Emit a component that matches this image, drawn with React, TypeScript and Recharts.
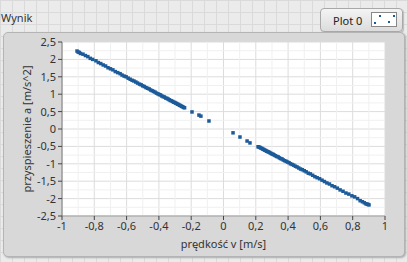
import React from "react";
import {
  ScatterChart,
  Scatter,
  XAxis,
  YAxis,
  CartesianGrid,
  ReferenceLine,
} from "recharts";

// measured samples: velocity v [m/s] and acceleration a [m/s^2]
const velocity = [
  -0.907, -0.9, -0.893, -0.885, -0.87, -0.855, -0.84, -0.825, -0.81, -0.79,
  -0.775, -0.76, -0.745, -0.73, -0.715, -0.7, -0.685, -0.67, -0.655, -0.64,
  -0.628, -0.615, -0.603, -0.59, -0.578, -0.566, -0.555, -0.543, -0.532, -0.52,
  -0.51, -0.5, -0.49, -0.48, -0.47, -0.46, -0.451, -0.442, -0.433, -0.424,
  -0.415, -0.406, -0.398, -0.39, -0.382, -0.374, -0.366, -0.358, -0.35, -0.343,
  -0.336, -0.329, -0.322, -0.315, -0.308, -0.301, -0.295, -0.289, -0.283,
  -0.277, -0.271, -0.265, -0.259, -0.253, -0.247, -0.241,
  -0.195, -0.152, -0.14, -0.09, 0.059, 0.102, 0.146, 0.164,
  0.214, 0.22, 0.226, 0.232, 0.238, 0.244, 0.25, 0.256, 0.262, 0.268, 0.274,
  0.28, 0.287, 0.294, 0.301, 0.308, 0.315, 0.322, 0.33, 0.338, 0.346, 0.354,
  0.362, 0.37, 0.379, 0.388, 0.397, 0.406, 0.415, 0.425, 0.435, 0.445, 0.455,
  0.466, 0.477, 0.488, 0.5, 0.512, 0.525, 0.538, 0.552, 0.566, 0.58, 0.595,
  0.61, 0.625, 0.64, 0.656, 0.672, 0.688, 0.705, 0.722, 0.74, 0.758, 0.776,
  0.795, 0.812, 0.83, 0.846, 0.86, 0.872, 0.882, 0.89, 0.896, 0.901,
];

const acceleration = [
  2.24, 2.21, 2.2, 2.17, 2.15, 2.11, 2.08, 2.03, 2.0, 1.96,
  1.91, 1.88, 1.84, 1.81, 1.76, 1.73, 1.7, 1.65, 1.62, 1.59,
  1.55, 1.52, 1.5, 1.46, 1.43, 1.4, 1.38, 1.35, 1.32, 1.29,
  1.27, 1.24, 1.22, 1.19, 1.17, 1.15, 1.12, 1.1, 1.08, 1.06,
  1.03, 1.01, 0.99, 0.98, 0.95, 0.93, 0.92, 0.89, 0.88, 0.86,
  0.84, 0.82, 0.81, 0.79, 0.77, 0.76, 0.74, 0.73, 0.71,
  0.7, 0.68, 0.67, 0.65, 0.64, 0.62, 0.61,
  0.49, 0.4, 0.37, 0.23, -0.11, -0.23, -0.345, -0.4,
  -0.51, -0.52, -0.53, -0.55, -0.56, -0.58, -0.59, -0.61, -0.62, -0.64, -0.65,
  -0.66, -0.68, -0.7, -0.72, -0.73, -0.75, -0.77, -0.79, -0.8, -0.83, -0.85,
  -0.86, -0.89, -0.91, -0.93, -0.95, -0.97, -1.0, -1.02, -1.04, -1.07, -1.09,
  -1.12, -1.15, -1.17, -1.2, -1.23, -1.27, -1.29, -1.33, -1.37, -1.4, -1.43,
  -1.47, -1.51, -1.55, -1.58, -1.63, -1.66, -1.7, -1.75, -1.79, -1.84, -1.87,
  -1.92, -1.95, -2.0, -2.06, -2.09, -2.12, -2.15, -2.16, -2.17, -2.18,
];

const xTicks = [-1, -0.8, -0.6, -0.4, -0.2, 0, 0.2, 0.4, 0.6, 0.8, 1];
const yTicks = [-2.5, -2, -1.5, -1, -0.5, 0, 0.5, 1, 1.5, 2, 2.5];
const xMinor = [-0.9, -0.7, -0.5, -0.3, -0.1, 0.1, 0.3, 0.5, 0.7, 0.9];
const yMinor = [-2.25, -1.75, -1.25, -0.75, -0.25, 0.25, 0.75, 1.25, 1.75, 2.25];

const points = velocity.map((v, i) => ({ v, a: acceleration[i] }));

const font = "'Noto Sans', 'DejaVu Sans', sans-serif";
const fmt = (v: number) => String(v).replace(".", ",");
const tick = { fontSize: 11, fill: "#333", fontFamily: font };

const Dot = (p: any) => (
  <rect x={p.cx - 1.75} y={p.cy - 1.75} width={3.5} height={3.5} fill="#1c5b9a" />
);

export default function App() {
  return (
    <div
      style={{
        position: "relative",
        width: 407,
        height: 262,
        overflow: "hidden",
        fontFamily: font,
        backgroundColor: "#ebebeb",
        backgroundImage:
          "linear-gradient(#dadada 1px, transparent 1px), linear-gradient(90deg, #dadada 1px, transparent 1px)",
        backgroundSize: "12px 12px",
      }}
    >
      <style>{"body{margin:0}"}</style>
      <div
        style={{ position: "absolute", left: 1, top: 10, fontSize: 11, color: "#333" }}
      >
        Wynik
      </div>
      {/* legend */}
      <div
        style={{
          position: "absolute",
          left: 320,
          top: 8,
          width: 81,
          height: 22,
          borderRadius: 4,
          border: "1px solid #a8a8a8",
          background: "linear-gradient(#f4f4f4, #dcdcdc)",
          boxShadow: "1px 1px 1px #bbb",
        }}
      >
        <span
          style={{ position: "absolute", left: 12, top: 4, fontSize: 11, color: "#222" }}
        >
          Plot 0
        </span>
        <svg
          width={26}
          height={15}
          style={{ position: "absolute", left: 50, top: 3 }}
        >
          <rect x={0.5} y={0.5} width={25} height={14} fill="#fff" stroke="#888" />
          <rect x={8} y={3} width={2} height={2} fill="#1c5b9a" />
          <rect x={3} y={10} width={2} height={2} fill="#1c5b9a" />
          <rect x={17} y={9} width={2} height={2} fill="#1c5b9a" />
          <rect x={22} y={3} width={2} height={2} fill="#1c5b9a" />
        </svg>
      </div>
      {/* graph panel */}
      <div
        style={{
          position: "absolute",
          left: 3,
          top: 32,
          width: 400,
          height: 223,
          borderRadius: 5,
          border: "1px solid #b4b4b4",
          background: "#d8d8d8",
          boxShadow: "1px 1px 2px #aaa",
        }}
      />
      <div style={{ position: "absolute", left: 0, top: 0 }}>
        <ScatterChart
          width={407}
          height={262}
          margin={{ top: 42, right: 22, bottom: 6, left: 0 }}
        >
          <CartesianGrid stroke="#dcdcdc" fill="#ffffff" />
          {xMinor.map((x) => (
            <ReferenceLine key={"x" + x} x={x} stroke="#f0f0f0" />
          ))}
          {yMinor.map((y) => (
            <ReferenceLine key={"y" + y} y={y} stroke="#f0f0f0" />
          ))}
          <XAxis
            type="number"
            dataKey="v"
            domain={[-1, 1]}
            ticks={xTicks}
            tickFormatter={fmt}
            tick={tick}
            tickSize={4}
            tickLine={{ stroke: "#444" }}
            axisLine={{ stroke: "#999" }}
            height={40}
            interval={0}
            label={{
              value: "prędkość v [m/s]",
              position: "center",
              dy: 8,
              style: { fontSize: 11, fill: "#333", fontFamily: font },
            }}
          />
          <YAxis
            type="number"
            dataKey="a"
            domain={[-2.5, 2.5]}
            ticks={yTicks}
            tickFormatter={fmt}
            tick={tick}
            tickSize={4}
            tickLine={{ stroke: "#444" }}
            axisLine={{ stroke: "#777" }}
            width={62}
            interval={0}
            label={{
              value: "przyspieszenie a [m/s^2]",
              angle: -90,
              position: "center",
              dx: -4,
              style: { fontSize: 11, fill: "#333", fontFamily: font },
            }}
          />
          <Scatter data={points} shape={Dot} isAnimationActive={false} />
        </ScatterChart>
      </div>
    </div>
  );
}
